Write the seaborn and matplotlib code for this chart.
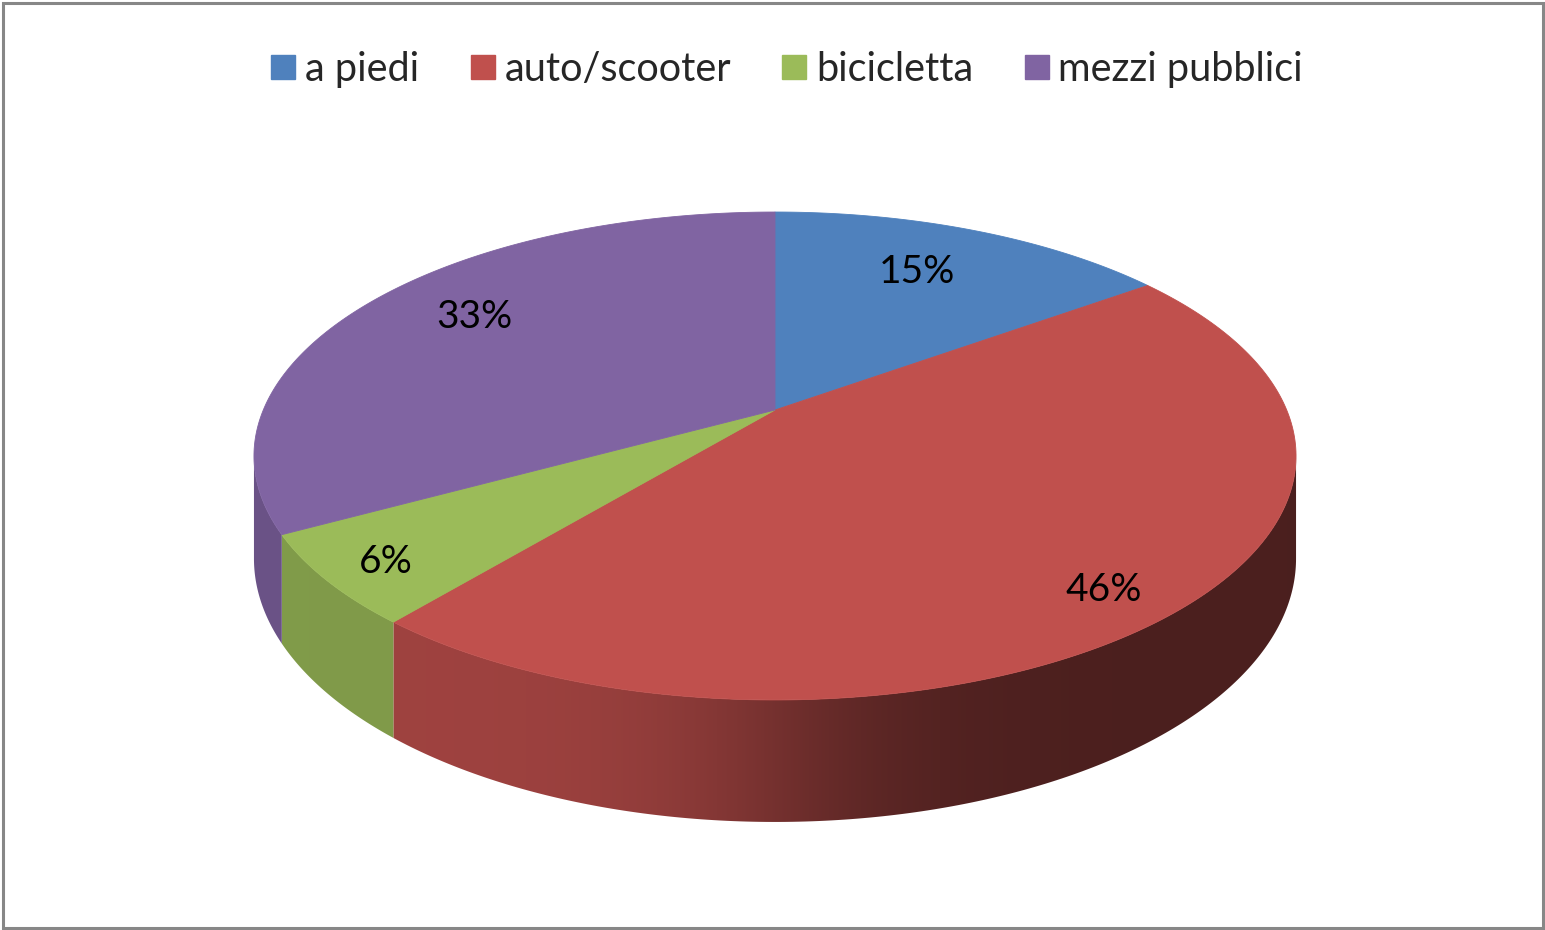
"""
    3D-style pie: mezzi di trasporto
"""

import numpy as np
import matplotlib.pyplot as plt
import seaborn as sns
from matplotlib.lines import Line2D
from matplotlib.patches import Polygon, Rectangle
from matplotlib.colors import to_rgb

# data
categories = ['a piedi', 'auto/scooter', 'bicicletta', 'mezzi pubblici']
shares = [15, 46, 6, 33]
colors = ['#4F81BD', '#C0504D', '#9BBB59', '#8064A2']

# pie geometry (pixels)
CX, CY = 775, 410
RX, RY = 511.7, 235.3
K = 0.1885          # perspective factor
THICK = 99
LABEL_R = 0.82
LABEL_NUDGE = [(-25, 13), (5, 21), (-31, 16), (34, -2)]


def project(u, v, drop=0.0):
    d = 1 + K * v
    return CX + RX * u / d, CY - RY * v / d + drop / d


def shade(x):
    u = (x - CX) / (RX * 1.02)
    return 0.61 - 0.22 * np.tanh(u / 0.3)


sns.set_theme(style='white')
plt.rcParams['font.family'] = ['Lato', 'DejaVu Sans']

fig = plt.figure(figsize=(15.45, 9.3), dpi=100)
ax = fig.add_axes([0, 0, 1, 1])
ax.set_xlim(0, 1545)
ax.set_ylim(930, 0)
ax.axis('off')

total = float(sum(shares))
bounds = np.concatenate([[0], np.cumsum(shares)]) / total * 2 * np.pi

# front half of the wall (between the two silhouette points)
sil = np.arctan2(np.sqrt(1 - K ** 2), -K)
front = (sil, 2 * np.pi - sil)

xs = np.linspace(240, 1310, 600)
for i in range(len(shares)):
    a = max(bounds[i], front[0])
    b = min(bounds[i + 1], front[1])
    if b <= a:
        continue
    th = np.linspace(a, b, 200)
    top = [project(np.sin(t), np.cos(t)) for t in th]
    bot = [project(np.sin(t), np.cos(t), THICK) for t in th[::-1]]
    wall = Polygon(top + bot, closed=True, facecolor='none', edgecolor='none')
    ax.add_patch(wall)
    base = np.array(to_rgb(colors[i]))
    grad = np.clip(base[None, None, :] * shade(xs)[None, :, None], 0, 1)
    im = ax.imshow(grad, extent=(xs[0], xs[-1], 850, 400), aspect='auto',
                   interpolation='bilinear', zorder=1)
    im.set_clip_path(wall)

# top face
for i in range(len(shares)):
    th = np.linspace(bounds[i], bounds[i + 1], 200)
    pts = [project(0, 0)] + [project(np.sin(t), np.cos(t)) for t in th]
    ax.add_patch(Polygon(pts, closed=True, facecolor=colors[i],
                         edgecolor=colors[i], linewidth=0.6, zorder=2))

# percentage labels
for i in range(len(shares)):
    mid = (bounds[i] + bounds[i + 1]) / 2
    x, y = project(LABEL_R * np.sin(mid), LABEL_R * np.cos(mid))
    dx, dy = LABEL_NUDGE[i]
    ax.text(x + dx, y + dy, f'{shares[i] / total:.0%}', ha='center',
            va='center', fontsize=28, color='black', zorder=3)

# legend
handles = [Line2D([], [], marker='s', linestyle='none', markersize=17,
                  markerfacecolor=c, markeredgecolor=c) for c in colors]
fig.legend(handles, categories, loc='center', bbox_to_anchor=(0.507, 0.925),
           ncol=4, frameon=False, fontsize=28.5, handletextpad=0.05,
           columnspacing=1.1, handlelength=1.0)

# outer frame
ax.add_patch(Rectangle((3, 3), 1540, 925, fill=False, edgecolor='#878787',
                       linewidth=2.2, zorder=4))

fig.savefig('out.png', dpi=100)
